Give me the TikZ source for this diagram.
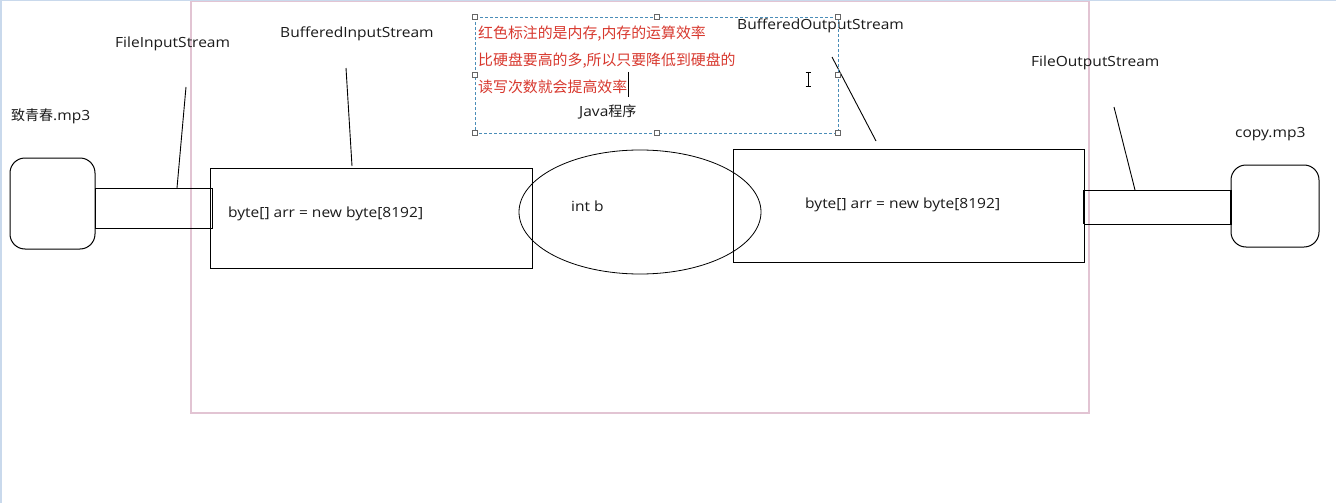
\documentclass[tikz,border=0pt]{standalone}
\usepackage{fontspec}
\setmainfont{Open Sans}[FakeStretch=1.11]
\newfontfamily\cjk{Noto Sans CJK SC}
\usetikzlibrary{shapes.geometric}
\definecolor{framepink}{HTML}{E2C4D3}
\definecolor{frameblue}{HTML}{C9D9EC}
\definecolor{noteblue}{HTML}{4A8DB8}
\definecolor{notered}{HTML}{D8382E}
\definecolor{txt}{HTML}{1A1A1A}
\tikzset{
  lbl/.style={inner sep=0pt, anchor=west, text=txt, font=\fontsize{14}{15}\selectfont},
  redtxt/.style={inner sep=0pt, anchor=west, text=notered, font=\cjk\fontsize{14.9}{15}\selectfont},
  blk/.style={draw=black, line width=1pt, inner sep=0pt},
  pointer/.style={draw=black, line width=0.9pt},
  handle/.style={draw=gray!80!black, fill=white, line width=0.6pt, minimum size=4.5pt, inner sep=0pt},
}
\begin{document}
\begin{tikzpicture}[x=1pt,y=-1pt]
\useasboundingbox (0,0) rectangle (1336,503);
\fill[white] (0,0) rectangle (1336,503);
% window frame
\draw[frameblue, line width=1.5pt] (0.75,503) -- (0.75,0.75) -- (1336,0.75);
\draw[framepink, line width=1.2pt] (191,1.5) rectangle (1089,413);

% source file
\draw[blk, rounded corners=15pt] (10,158) rectangle (95,249);
% left pipe
\draw[blk] (95,188) rectangle (212,228);
\node[coordinate] (fispipe) at (177,188) {};
% buffered input box
\draw[blk] (210,168) rectangle (532,268);
\node[coordinate] (bisbox) at (352,166) {};
\node[lbl] (bistext) at (228,214) {byte[] arr = new byte[8192]};
% ellipse
\node[draw=black, line width=0.8pt, ellipse, minimum width=242pt, minimum height=124pt, inner sep=0pt] (prog) at (640,212) {};
\node[lbl] (intb) at (571,206) {int b};
% buffered output box
\draw[blk] (733,149) rectangle (1084,262);
\node[lbl] (bostext) at (805,205) {byte[] arr = new byte[8192]};
\node[coordinate] (bosbox) at (876,141) {};
% right pipe
\draw[blk] (1084,190) rectangle (1231,224);
\draw[black, line width=2.2pt] (1084,190) -- (1084,224);
\draw[black, line width=2.2pt] (1231,190) -- (1231,224);
\node[coordinate] (fospipe) at (1135,190) {};
% destination file
\draw[blk, rounded corners=15pt] (1231,165) rectangle (1319,247);

% labels
\node[lbl] (srclbl) at (11,116) {{\cjk 致青春}.mp3};
\node[lbl] (fislbl) at (115,44) {FileInputStream};
\node[lbl] (bislbl) at (280,34) {BufferedInputStream};
\node[lbl] (boslbl) at (737,26) {BufferedOutputStream};
\node[lbl] (foslbl) at (1031,63) {FileOutputStream};
\node[lbl] (dstlbl) at (1235,134) {copy.mp3};
\node[lbl] (javalbl) at (579,112) {Java{\cjk 程序}};

% pointer lines
\node[coordinate] (fistop) at (186,87) {};
\node[coordinate] (bistop) at (346,68) {};
\node[coordinate] (bostop) at (832,57) {};
\node[coordinate] (fostop) at (1114,107) {};
\draw[pointer] (fistop) -- (fispipe);
\draw[pointer] (bistop) -- (bisbox);
\draw[pointer] (bostop) -- (bosbox);
\draw[pointer] (fostop) -- (fospipe);

% note box (selected text box)
\draw[noteblue, line width=0.8pt, dash pattern=on 3pt off 2pt] (475,17) rectangle (838,133);
\foreach \p in {(475,17),(657,17),(838,17),(475,75),(838,75),(475,133),(657,133),(838,133)}
  \node[handle] at \p {};
\node[redtxt] (note1) at (478,34) {红色标注的是内存,内存的运算效率};
\node[redtxt] (note2) at (478,61) {比硬盘要高的多,所以只要降低到硬盘的};
\node[redtxt] (note3) at (478,87) {读写次数就会提高效率};
\draw[black, line width=0.9pt] (628.5,72) -- (628.5,97);
% I-beam mouse cursor
\draw[black, line width=0.8pt] (808,72) -- (808,86);
\draw[black, line width=0.8pt] (805.5,72) -- (810.5,72) (805.5,86) -- (810.5,86);
\end{tikzpicture}
\end{document}
